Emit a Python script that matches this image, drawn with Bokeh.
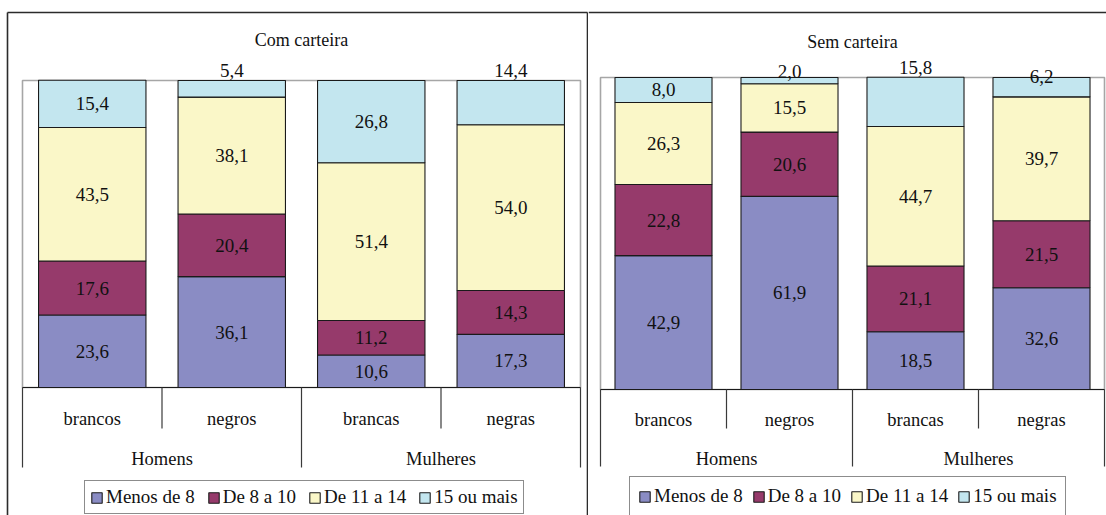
from bokeh.plotting import figure
from bokeh.models import ColumnDataSource, Legend, LegendItem, Range1d
from bokeh.layouts import row
from bokeh.embed import file_html
from bokeh.resources import INLINE
from bokeh.core.properties import value

# ---------------- data ----------------
categories = ["brancos", "negros", "brancas", "negras"]
group_names = ["Homens", "Mulheres"]
series = ["Menos de 8", "De 8 a 10", "De 11 a 14", "15 ou mais"]
colors = ["#8A8CC4", "#963A6B", "#FAF7C8", "#C3E6EF"]

com_menos8 = [23.6, 36.1, 10.6, 17.3]
com_8a10 = [17.6, 20.4, 11.2, 14.3]
com_11a14 = [43.5, 38.1, 51.4, 54.0]
com_15mais = [15.4, 5.4, 26.8, 14.4]

sem_menos8 = [42.9, 61.9, 18.5, 32.6]
sem_8a10 = [22.8, 20.6, 21.1, 21.5]
sem_11a14 = [26.3, 15.5, 44.7, 39.7]
sem_15mais = [8.0, 2.0, 15.8, 6.2]

# whether the top segment's label sits above the bar
com_top_above = [False, True, False, True]
sem_top_above = [False, True, True, True]

FONT_NAME = "'Times New Roman', 'Liberation Serif', serif"
FONT = value(FONT_NAME)
H = 515


def fmt(v):
    return f"{v:.1f}".replace(".", ",")


def make_panel(title, vals, top_above, above_dy, width, plot_l, plot_r, plot_t, plot_b,
               borders, cat_y, grp_y, inner_sep_end, grp_sep_end, title_y, legend_loc,
               legend_pad, legend_spacing):
    ppx = (plot_r - plot_l) / 4.0
    ppy = (plot_b - plot_t) / 100.0
    x0 = 0.5 - plot_l / ppx
    x1 = x0 + width / ppx
    y1 = 100 + plot_t / ppy
    y0 = y1 - H / ppy
    X = lambda px: x0 + px / ppx
    Y = lambda py: y1 - py / ppy

    p = figure(width=width, height=H, x_range=Range1d(x0, x1), y_range=Range1d(y0, y1),
               output_backend="svg", toolbar_location=None, min_border=0,
               x_axis_location=None, y_axis_location=None)
    p.min_border_left = p.min_border_right = p.min_border_top = p.min_border_bottom = 0
    p.grid.visible = False
    p.outline_line_color = None
    p.background_fill_color = "white"
    p.border_fill_color = "white"

    # panel border (chart-area frame)
    bx0, by0, bx1, by1 = [], [], [], []
    for (a, b, c, d) in borders:
        bx0.append(X(a)); by0.append(Y(b)); bx1.append(X(c)); by1.append(Y(d))
    p.segment(x0=bx0, y0=by0, x1=bx1, y1=by1, line_color="#2b2b2b", line_width=1.6)

    # plot area outline
    p.quad(left=[0.5], right=[4.5], bottom=[0], top=[100], fill_color=None,
           line_color="#A6A6A6", line_width=1.6)

    xs = [1, 2, 3, 4]
    src = ColumnDataSource(dict(x=xs, **{s: v for s, v in zip(series, vals)}))
    rs = p.vbar_stack(series, x="x", width=0.77, source=src, color=colors,
                      line_color="#1a1a1a", line_width=1.1)

    # axis lines / separators
    p.segment(x0=[0.5], y0=[0], x1=[4.5], y1=[0], line_color="#1a1a1a", line_width=1.2)
    p.segment(x0=[1.5, 3.5], y0=[0, 0], x1=[1.5, 3.5], y1=[Y(inner_sep_end)] * 2,
              line_color="#3a3a3a", line_width=1.2)
    p.segment(x0=[0.5, 2.5, 4.5], y0=[0, 0, 0], x1=[0.5, 2.5, 4.5], y1=[Y(grp_sep_end)] * 3,
              line_color="#3a3a3a", line_width=1.2)

    # value labels
    lx, ly, lt, ld = [], [], [], []
    for j in range(4):
        base = 0.0
        for i in range(4):
            v = vals[i][j]
            if i == 3 and top_above[j]:
                lx.append(xs[j]); ly.append(base + v); ld.append(above_dy[j])
            else:
                lx.append(xs[j]); ly.append(base + v / 2.0); ld.append(0)
            lt.append(fmt(v))
            base += v
    p.text(x="x", y="y", text="t", y_offset="dy",
           source=ColumnDataSource(dict(x=lx, y=ly, t=lt, dy=ld)),
           text_align="center", text_baseline="middle", text_font=FONT,
           text_font_size=value("19px"), text_color="#111111")

    # category labels
    p.text(x=xs, y=[Y(cat_y)] * 4, text=categories, text_align="center",
           text_baseline="middle", text_font=FONT, text_font_size=value("18.5px"),
           text_color="#111111")
    p.text(x=[1.5, 3.5], y=[Y(grp_y)] * 2, text=group_names, text_align="center",
           text_baseline="middle", text_font=FONT, text_font_size=value("18.5px"),
           text_color="#111111")

    # title
    p.text(x=[2.5], y=[Y(title_y)], text=[title], text_align="center",
           text_baseline="middle", text_font=FONT, text_font_size=value("18px"),
           text_color="#111111")

    legend = Legend(items=[LegendItem(label=s, renderers=[r]) for s, r in zip(series, rs)],
                    location=legend_loc, orientation="horizontal")
    legend.label_text_font = FONT_NAME
    legend.label_text_font_size = "19px"
    legend.label_text_color = "#111111"
    legend.glyph_width = 13
    legend.glyph_height = 13
    legend.label_standoff = 3
    legend.spacing = legend_spacing
    legend.padding = legend_pad
    legend.margin = 0
    legend.label_height = 18
    legend.border_line_color = "#1a1a1a"
    legend.border_line_width = 1.2
    legend.background_fill_alpha = 1.0
    p.add_layout(legend)
    return p


W1 = 588
W2 = 1106 - W1

p1 = make_panel("Com carteira",
                [com_menos8, com_8a10, com_11a14, com_15mais],
                com_top_above, [0, -10, 0, -10],
                W1, 22, 580, 80, 387,
                [(7, 12, 587, 12), (7, 12, 7, 520), (587, 12, 587, 520)],
                418, 458, 428, 467, 39, (84, 1), 5, 12)

p2 = make_panel("Sem carteira",
                [sem_menos8, sem_8a10, sem_11a14, sem_15mais],
                sem_top_above, [0, -6, -10, -1],
                W2, 600 - W1, 1104 - W1, 77, 389,
                [(0, 12, W2 + 5, 12)],
                419, 458, 428, 466, 41, (41, -1), 8, 9)

layout = row(p1, p2, spacing=0)
open("out.html", "w").write(file_html(layout, INLINE))
